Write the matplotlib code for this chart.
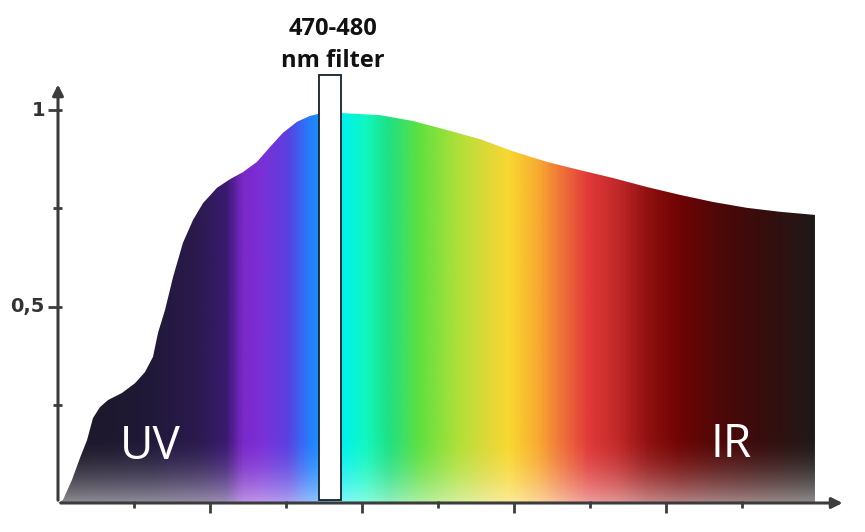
import matplotlib
matplotlib.use("Agg")
import matplotlib.pyplot as plt
import numpy as np
from matplotlib.colors import LinearSegmentedColormap, to_rgb
from matplotlib.patches import Polygon, Rectangle

# spectrum curve (wavelength nm, relative intensity)
wavelength = [300.0, 303.3, 309.2, 314.5, 319.1, 323.0, 327.6, 332.9, 342.1, 350.7,
              357.2, 362.5, 365.8, 370.4, 375.7, 382.2, 388.8, 395.4, 404.6, 413.2,
              421.7, 430.9, 439.5, 448.0, 457.2, 465.8, 471.1, 487.5, 511.8, 533.6,
              555.9, 577.6, 599.3, 621.7, 643.4, 665.1, 687.5, 709.2, 730.9, 753.3,
              775.0, 798.0]
intensity = [0.0, 0.008, 0.059, 0.115, 0.160, 0.216, 0.244, 0.262, 0.280, 0.305,
             0.333, 0.372, 0.433, 0.491, 0.575, 0.662, 0.720, 0.763, 0.802, 0.824,
             0.842, 0.868, 0.906, 0.942, 0.970, 0.985, 0.990, 0.992, 0.987, 0.972,
             0.949, 0.926, 0.895, 0.868, 0.847, 0.827, 0.804, 0.784, 0.766, 0.751,
             0.741, 0.733]

# colour stops along the spectrum
stop_nm = [300, 360, 393, 410, 421, 434, 451, 462, 471, 487, 502, 518, 538, 564,
           584, 597, 617, 630, 650, 670, 689, 709, 735, 762, 798]
stop_col = ["#1c1824", "#201838", "#2c1a50", "#3a1a72", "#7a28c8", "#7a30d8",
            "#5a40e0", "#3070f8", "#1890ff", "#00f0f0", "#10f8c0", "#20e080",
            "#60e040", "#b0e038", "#e0d838", "#f8d830", "#f8a830", "#f07838",
            "#e03838", "#c02828", "#901010", "#700404", "#500808", "#3a0c0c",
            "#201818"]

x_major = [400, 500, 600, 700]
x_minor = [350, 450, 550, 650, 750]
y_major = [0.5, 1.0]
y_minor = [0.25, 0.75]
y_labels = ["0,5", "1"]

filter_nm = (472, 486)
filter_top = 1.09

# pixel mapping of the original: x 58px -> 300nm, 76px per 50nm; y 503px -> 0, 393px per 1
W, H = 865, 532
nm_per_px = 50 / 76
x0 = 300 - 58 * nm_per_px
x1 = 300 + (W - 58) * nm_per_px
y0 = -(H - 503) / 393
y1 = 503 / 393

fig = plt.figure(figsize=(W / 100, H / 100), dpi=100)
ax = fig.add_axes([0, 0, 1, 1])
ax.set_xlim(x0, x1)
ax.set_ylim(y0, y1)
ax.axis("off")

# gradient image, fading to white near the bottom
pos = [(n - stop_nm[0]) / (stop_nm[-1] - stop_nm[0]) for n in stop_nm]
cmap = LinearSegmentedColormap.from_list("spec", list(zip(pos, [to_rgb(c) for c in stop_col])))
nx, ny = 600, 300
cols = cmap(np.linspace(0, 1, nx))[:, :3]
yy = np.linspace(0, 1.0, ny)
fade = 0.5 * np.clip((0.17 - yy) / 0.17, 0, 1) ** 1.8
img = cols[None, :, :] * (1 - fade[:, None, None]) + fade[:, None, None]
verts = list(zip(wavelength, intensity)) + [(wavelength[-1], 0), (wavelength[0], 0)]
shape = Polygon(verts, closed=True, facecolor="none", edgecolor="none")
ax.add_patch(shape)
im = ax.imshow(img, extent=[wavelength[0], wavelength[-1], 0, 1.0], origin="lower",
               aspect="auto", interpolation="bilinear", zorder=1)
im.set_clip_path(shape)

# filter
ax.add_patch(Rectangle((filter_nm[0], 0.008), filter_nm[1] - filter_nm[0], filter_top - 0.008,
                       facecolor="white", edgecolor="#14212e", lw=1.3, zorder=3))
fc = (filter_nm[0] + filter_nm[1]) / 2 + 2
ax.text(fc, 1.191, "470-480", ha="center", va="baseline", fontsize=17,
        fontweight="bold", family="Open Sans", color="#111111")
ax.text(fc, 1.109, "nm filter", ha="center", va="baseline", fontsize=17,
        fontweight="bold", family="Open Sans", color="#111111")

# axes with arrows
axc = "#3c3c3c"
ax.annotate("", xy=(818, 0), xytext=(300, 0),
            arrowprops=dict(arrowstyle="-|>", color=axc, lw=2.2, mutation_scale=16), zorder=4)
ax.annotate("", xy=(300, 1.072), xytext=(300, 0),
            arrowprops=dict(arrowstyle="-|>", color=axc, lw=2.2, mutation_scale=16), zorder=4)
ax.vlines(x_major, -10 / 393, 1 / 393, color=axc, lw=2, zorder=4)
ax.vlines(x_minor, -5 / 393, 2 / 393, color=axc, lw=2, zorder=4)
ax.hlines(y_major, 300 - 10 * nm_per_px, 300 + 4 * nm_per_px, color=axc, lw=2, zorder=4)
ax.hlines(y_minor, 300 - 5 * nm_per_px, 300 + 4 * nm_per_px, color=axc, lw=2, zorder=4)
for v, lab in zip(y_major, y_labels):
    ax.text(300 - 13 * nm_per_px, v, lab, ha="right", va="center", fontsize=14,
            fontweight="bold", color="#333333", family="DejaVu Sans")

ax.text(361, 0.1425, "UV", ha="center", va="center", fontsize=33, color="white",
        family="Open Sans", zorder=5)
ax.text(743, 0.1476, "IR", ha="center", va="center", fontsize=33, color="white",
        family="Open Sans", zorder=5)

fig.savefig("out.png", dpi=100)
